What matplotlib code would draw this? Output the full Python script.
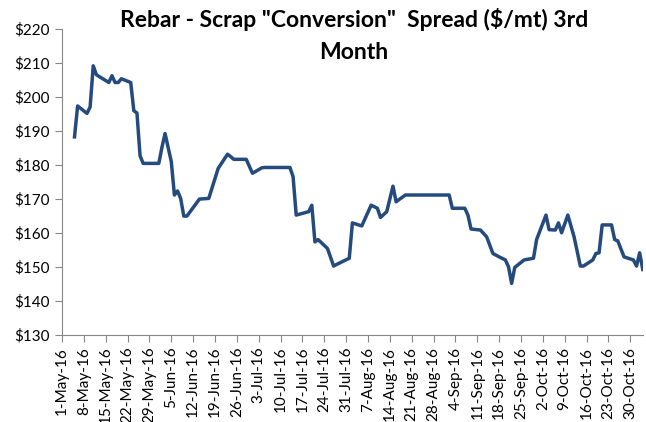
import matplotlib
matplotlib.use("Agg")
import matplotlib.pyplot as plt
import matplotlib.dates as mdates
import pandas as pd

# Spread series
dates = [
    "2016-05-05", "2016-05-06", "2016-05-09", "2016-05-10", "2016-05-11", "2016-05-12",
    "2016-05-13", "2016-05-16", "2016-05-17", "2016-05-18", "2016-05-19", "2016-05-20",
    "2016-05-23", "2016-05-24", "2016-05-25", "2016-05-26", "2016-05-27", "2016-06-01",
    "2016-06-02", "2016-06-03", "2016-06-05", "2016-06-06", "2016-06-07", "2016-06-08",
    "2016-06-09", "2016-06-10", "2016-06-14", "2016-06-17", "2016-06-20", "2016-06-23",
    "2016-06-24", "2016-06-25", "2016-06-29", "2016-07-01", "2016-07-04", "2016-07-05",
    "2016-07-13", "2016-07-14", "2016-07-15", "2016-07-19", "2016-07-20", "2016-07-21",
    "2016-07-22", "2016-07-25", "2016-07-27", "2016-07-28", "2016-08-01", "2016-08-02",
    "2016-08-04", "2016-08-05", "2016-08-08", "2016-08-10", "2016-08-11", "2016-08-13",
    "2016-08-15", "2016-08-16", "2016-08-17", "2016-08-19", "2016-09-02", "2016-09-03",
    "2016-09-07", "2016-09-08", "2016-09-09", "2016-09-12", "2016-09-14", "2016-09-16",
    "2016-09-18", "2016-09-20", "2016-09-21", "2016-09-22", "2016-09-23", "2016-09-26",
    "2016-09-29", "2016-09-30", "2016-10-03", "2016-10-04", "2016-10-06", "2016-10-07",
    "2016-10-08", "2016-10-10", "2016-10-12", "2016-10-14", "2016-10-15", "2016-10-18",
    "2016-10-19", "2016-10-20", "2016-10-21", "2016-10-24", "2016-10-25", "2016-10-26",
    "2016-10-28", "2016-10-31", "2016-11-01", "2016-11-02", "2016-11-03",
]
spread = [
    188.3, 197.4, 195.2, 197.1, 209.2, 206.6,
    206.0, 204.3, 206.3, 204.3, 204.3, 205.4,
    204.3, 196.0, 195.3, 182.7, 180.5, 180.5,
    185.2, 189.3, 181.0, 171.2, 172.4, 170.2,
    165.0, 165.0, 170.0, 170.2, 179.0, 183.2,
    182.5, 181.7, 181.7, 177.6, 179.2, 179.3,
    179.3, 176.6, 165.3, 166.3, 168.2, 157.4,
    158.1, 155.5, 150.3, 150.8, 152.6, 163.0,
    162.4, 162.1, 168.2, 167.3, 164.6, 166.3,
    173.8, 169.2, 169.9, 171.2, 171.2, 167.3,
    167.3, 165.3, 161.2, 160.9, 158.9, 154.0,
    153.0, 152.1, 150.1, 145.2, 149.9, 152.1,
    152.6, 158.1, 165.3, 161.0, 160.9, 163.0,
    160.1, 165.3, 158.9, 150.3, 150.3, 152.1,
    154.0, 154.2, 162.4, 162.4, 158.1, 157.7,
    153.0, 152.1, 150.3, 154.2, 149.3,
]

title = 'Rebar - Scrap "Conversion"  Spread ($/mt) 3rd\nMonth'
axis_color = "#868686"
line_color = "#244A7E"

plt.rcParams["font.family"] = ["Lato", "DejaVu Sans"]

x = pd.to_datetime(dates)

fig = plt.figure(figsize=(6.46, 4.22), dpi=100)
ax = fig.add_axes([0.096, 0.206, 0.899, 0.725])
ax.plot(x, spread, color=line_color, linewidth=2.5, solid_joinstyle="round")

ax.set_ylim(130, 220)
ax.set_yticks(range(130, 221, 10))
ax.yaxis.set_major_formatter(plt.FuncFormatter(lambda v, p: "${:.0f}".format(v)))

ax.set_xlim(pd.Timestamp("2016-05-01"), pd.Timestamp("2016-11-03"))
ax.set_xticks(pd.date_range("2016-05-01", "2016-10-30", freq="7D"))
ax.xaxis.set_major_formatter(
    plt.FuncFormatter(lambda v, p: mdates.num2date(v).strftime("%d-%b-%y").lstrip("0"))
)
plt.setp(ax.get_xticklabels(), rotation=90)

for side in ["top", "right"]:
    ax.spines[side].set_visible(False)
for side in ["left", "bottom"]:
    ax.spines[side].set_color(axis_color)
ax.tick_params(axis="both", colors=axis_color, length=5, labelsize=11, labelcolor="black")
ax.tick_params(axis="y", pad=4)

fig.text(0.548, 0.982, title, ha="center", va="top", fontsize=16.5, fontweight="bold",
         linespacing=1.65)

fig.savefig("out.png", dpi=100)
